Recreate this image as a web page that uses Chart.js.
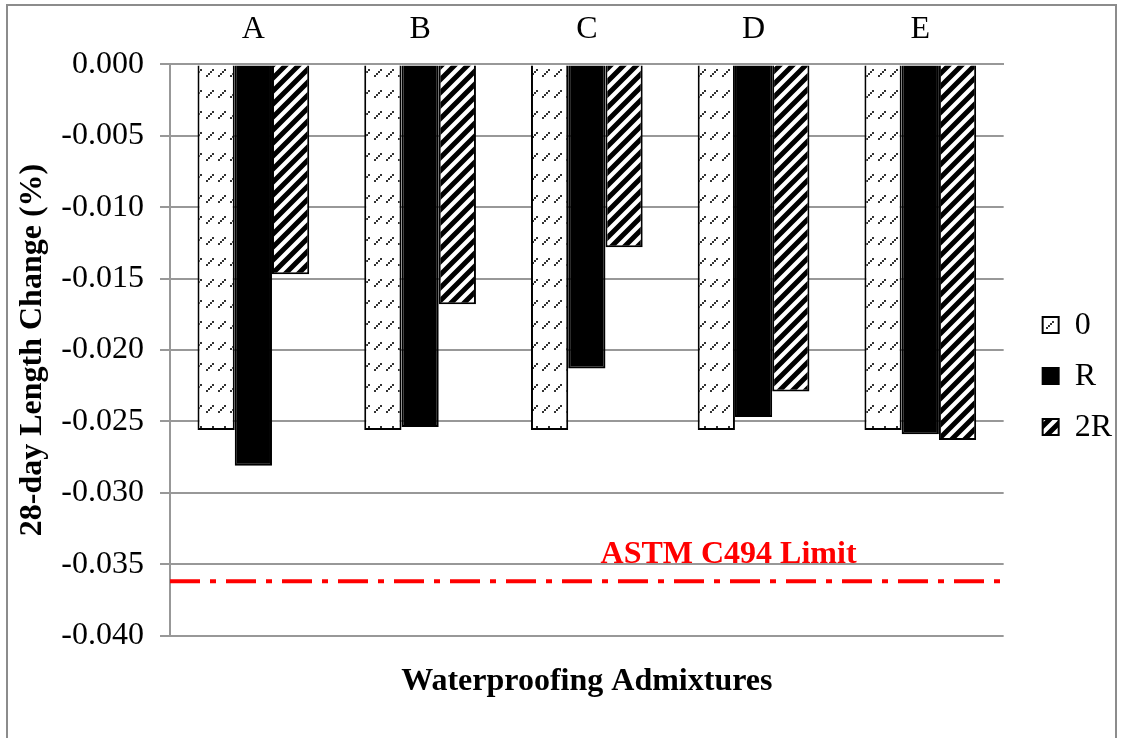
<!DOCTYPE html>
<html>
<head>
<meta charset="utf-8">
<script src="https://cdn.jsdelivr.net/npm/chart.js@4.4.1/dist/chart.umd.min.js"></script>
<style>
  body { margin: 0; background: #fff; }
  canvas { display: block; }
</style>
</head>
<body>
<canvas id="myChart" width="1122" height="738"></canvas>
<script>
const categories = ['A', 'B', 'C', 'D', 'E'];
const seriesNames = ['0', 'R', '2R'];
const values0 = [-0.0256, -0.0256, -0.0256, -0.0256, -0.0256];
const valuesR = [-0.0281, -0.0254, -0.0213, -0.0247, -0.0259];
const values2R = [-0.0147, -0.0168, -0.0128, -0.0229, -0.0263];
const yTicks = [0, -0.005, -0.010, -0.015, -0.020, -0.025, -0.030, -0.035, -0.040];
const limitValue = -0.0362;
const limitLabel = 'ASTM C494 Limit';

const serif = "'Liberation Serif', 'Times New Roman', serif";

// small dashed diagonal marks for the "0" series
function dashPattern() {
    const c = document.createElement('canvas');
    c.width = 12; c.height = 21;
    const g = c.getContext('2d');
    g.fillStyle = '#fff';
    g.fillRect(0, 0, 12, 21);
    g.fillStyle = '#333';
    for (let i = 0; i < 4; i++) {
        g.fillRect(2 + i * 2, 12 - i * 2, 2, 2);
    }
    return g.createPattern(c, 'repeat');
}

// wide diagonal stripes for the "2R" series
function stripePattern() {
    const s = 13;
    const c = document.createElement('canvas');
    c.width = s; c.height = s;
    const g = c.getContext('2d');
    g.fillStyle = '#fff';
    g.fillRect(0, 0, s, s);
    g.strokeStyle = '#000';
    g.lineWidth = 5;
    g.beginPath();
    g.moveTo(-s, 2 * s); g.lineTo(2 * s, -s);
    g.moveTo(-2 * s, 2 * s); g.lineTo(s, -s);
    g.moveTo(0, 2 * s); g.lineTo(3 * s, -s);
    g.stroke();
    return g.createPattern(c, 'repeat');
}

const limitLine = {
    id: 'limitLine',
    beforeDraw(chart) {
        const ctx = chart.ctx;
        ctx.save();
        ctx.strokeStyle = '#8c8c8c';
        ctx.lineWidth = 2;
        ctx.strokeRect(7, 5, 1109, 760);
        ctx.restore();
    },
    afterDatasetsDraw(chart) {
        const { ctx, chartArea } = chart;
        const y = chart.scales.y.getPixelForValue(limitValue);
        ctx.save();
        ctx.strokeStyle = '#ff0000';
        ctx.lineWidth = 4;
        ctx.setLineDash([30, 10, 6, 10]);
        ctx.beginPath();
        ctx.moveTo(chartArea.left, y);
        ctx.lineTo(chartArea.right, y);
        ctx.stroke();
        ctx.setLineDash([]);
        ctx.fillStyle = '#ff0000';
        ctx.font = 'bold 32px ' + serif;
        ctx.textAlign = 'center';
        ctx.textBaseline = 'alphabetic';
        ctx.fillText(limitLabel, chartArea.left + chartArea.width * 0.67, y - 18);
        ctx.restore();
    }
};

const ctx = document.getElementById('myChart').getContext('2d');
const myChart = new Chart(ctx, {
    type: 'bar',
    data: {
        labels: categories,
        datasets: [
            { label: seriesNames[0], data: values0, backgroundColor: dashPattern(), borderColor: '#000', borderWidth: 2 },
            { label: seriesNames[1], data: valuesR, backgroundColor: '#000', borderColor: '#000', borderWidth: 2 },
            { label: seriesNames[2], data: values2R, backgroundColor: stripePattern(), borderColor: '#000', borderWidth: 2 }
        ]
    },
    options: {
        responsive: false,
        devicePixelRatio: 1,
        animation: false,
        datasets: { bar: { categoryPercentage: 0.67, barPercentage: 1.0 } },
        layout: { padding: { left: 10, top: 2, right: 0, bottom: 0 } },
        plugins: {
            tooltip: { enabled: false },
            legend: {
                position: 'right',
                title: { display: true, text: ' ', font: { size: 1 }, padding: { top: 6, bottom: 5 } },
                labels: {
                    color: '#000',
                    font: { family: serif, size: 32 },
                    boxWidth: 16,
                    boxHeight: 16,
                    padding: 19
                }
            }
        },
        scales: {
            x: {
                position: 'top',
                grid: { display: false },
                border: { color: '#989898', width: 2 },
                ticks: { color: '#000', font: { family: serif, size: 32 }, padding: 8 }
            },
            x2: {
                type: 'category',
                labels: categories,
                position: 'bottom',
                grid: { display: false },
                border: { display: false },
                ticks: { display: false },
                title: {
                    display: true,
                    text: 'Waterproofing Admixtures',
                    color: '#000',
                    font: { family: serif, size: 32, weight: 'bold' },
                    padding: { top: 19, bottom: 37 }
                }
            },
            y: {
                min: -0.04,
                max: 0,
                afterBuildTicks: function (scale) {
                    scale.ticks = yTicks.map(v => ({ value: v }));
                },
                afterFit: function (scale) { scale.width = 160; },
                grid: { color: '#989898', lineWidth: 2, tickLength: 10 },
                border: { color: '#989898', width: 2 },
                ticks: {
                    color: '#000',
                    font: { family: serif, size: 32 },
                    padding: 16,
                    callback: v => (Math.abs(v) < 1e-9 ? 0 : v).toFixed(3)
                },
                title: {
                    display: true,
                    text: '28-day Length Change (%)',
                    color: '#000',
                    font: { family: serif, size: 32, weight: 'bold' },
                    padding: { top: 4, bottom: 10 }
                }
            },
            // empty spacer between the plot and the legend
            gap: {
                type: 'linear',
                position: 'right',
                grid: { display: false },
                border: { display: false },
                ticks: { display: false },
                afterFit: function (scale) { scale.width = 20; }
            }
        }
    },
    plugins: [limitLine]
});
</script>
</body>
</html>
